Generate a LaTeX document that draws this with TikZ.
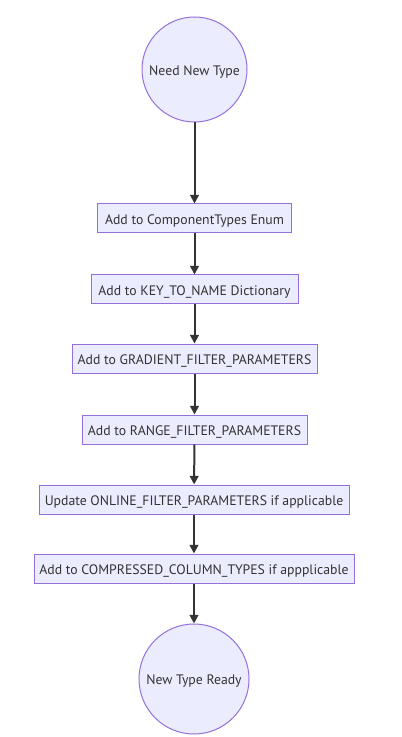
\documentclass[tikz,border=0pt]{standalone}
\usepackage{fontspec}
\setmainfont{PT Sans}
\usetikzlibrary{arrows.meta}
\definecolor{fillc}{HTML}{ECECFF}
\definecolor{strokec}{HTML}{9370DB}
\definecolor{textc}{HTML}{333333}
\begin{document}
\begin{tikzpicture}[x=0.75pt,y=-0.75pt,
  lbl/.style={text=textc,font=\fontsize{10.3}{12.5}\selectfont,text height=8.7pt,text depth=0pt},
  box/.style={lbl,draw=strokec,fill=fillc,line width=0.75pt,inner sep=0pt,
    minimum height=29*0.75pt,minimum width=#1*0.75pt},
  term/.style={lbl,circle,draw=strokec,fill=fillc,line width=0.75pt,inner sep=0pt,
    minimum size=#1*0.75pt},
  flow/.style={draw=textc,line width=1.5pt,-{Triangle[length=6.5pt,width=6.5pt]}}]
\useasboundingbox[fill=white] (0,0) rectangle (402,737);
\node[term=105] (n0) at (194.5,69.5) {Need New Type};
\node[box=194] (n1) at (194.5,218.5) {Add to ComponentTypes Enum};
\node[box=207] (n2) at (194.5,289.5) {Add to KEY\_TO\_NAME Dictionary};
\node[box=245] (n3) at (194.5,358.5) {Add to GRADIENT\_FILTER\_PARAMETERS};
\node[box=225] (n4) at (194.5,429.5) {Add to RANGE\_FILTER\_PARAMETERS};
\node[box=310] (n5) at (194,499.5) {Update ONLINE\_FILTER\_PARAMETERS if applicable};
\node[box=320] (n6) at (194,568.5) {Add to COMPRESSED\_COLUMN\_TYPES if appplicable};
\node[term=110] (n7) at (194,679) {New Type Ready};
\draw[flow] (n0) -- (n1);
\draw[flow] (n1) -- (n2);
\draw[flow] (n2) -- (n3);
\draw[flow] (n3) -- (n4);
\draw[flow] (n4) -- (n5);
\draw[flow] (n5) -- (n6);
\draw[flow] (n6) -- (n7);
\end{tikzpicture}
\end{document}
